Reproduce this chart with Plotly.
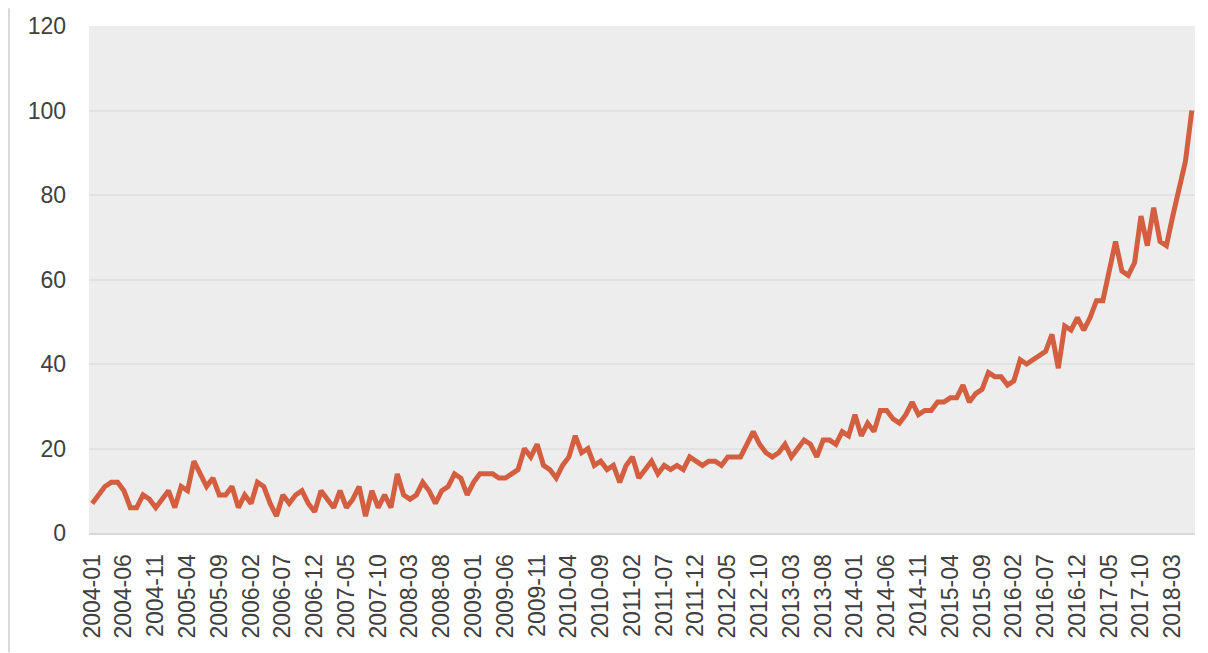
import plotly.graph_objects as go

# Monthly categories 2004-01 .. 2018-06
months = [f"{y}-{m:02d}" for y in range(2004, 2019) for m in range(1, 13)][:174]

values_2004 = [7, 9, 11, 12, 12, 10, 6, 6, 9, 8, 6, 8]
values_2005 = [10, 6, 11, 10, 17, 14, 11, 13, 9, 9, 11, 6]
values_2006 = [9, 7, 12, 11, 7, 4, 9, 7, 9, 10, 7, 5]
values_2007 = [10, 8, 6, 10, 6, 8, 11, 4, 10, 6, 9, 6]
values_2008 = [14, 9, 8, 9, 12, 10, 7, 10, 11, 14, 13, 9]
values_2009 = [12, 14, 14, 14, 13, 13, 14, 15, 20, 18, 21, 16]
values_2010 = [15, 13, 16, 18, 23, 19, 20, 16, 17, 15, 16, 12]
values_2011 = [16, 18, 13, 15, 17, 14, 16, 15, 16, 15, 18, 17]
values_2012 = [16, 17, 17, 16, 18, 18, 18, 21, 24, 21, 19, 18]
values_2013 = [19, 21, 18, 20, 22, 21, 18, 22, 22, 21, 24, 23]
values_2014 = [28, 23, 26, 24, 29, 29, 27, 26, 28, 31, 28, 29]
values_2015 = [29, 31, 31, 32, 32, 35, 31, 33, 34, 38, 37, 37]
values_2016 = [35, 36, 41, 40, 41, 42, 43, 47, 39, 49, 48, 51]
values_2017 = [48, 51, 55, 55, 62, 69, 62, 61, 64, 75, 68, 77]
values_2018 = [69, 68, 75, 81, 88, 100]

values = (values_2004 + values_2005 + values_2006 + values_2007 + values_2008
          + values_2009 + values_2010 + values_2011 + values_2012 + values_2013
          + values_2014 + values_2015 + values_2016 + values_2017 + values_2018)

tick_labels = months[::5]
y_ticks = [0, 20, 40, 60, 80, 100, 120]

fig = go.Figure()
fig.add_trace(go.Scatter(
    x=months, y=values, mode="lines",
    line=dict(color="#D35E40", width=5),
    hoverinfo="x+y", showlegend=False,
))

font_family = "Liberation Sans, Arial, sans-serif"

# page body has an 8px margin: figure sits at (8, 8) and is 1200x645
fig.update_layout(
    width=1200, height=645,
    margin=dict(l=81, r=13, t=18, b=120, autoexpand=False),
    paper_bgcolor="white",
    plot_bgcolor="#ededed",
    font=dict(family=font_family, size=23, color="#404040"),
    xaxis=dict(
        type="category",
        categoryorder="array", categoryarray=months,
        range=[-0.5, len(months) - 0.5],
        tickmode="array", tickvals=tick_labels, ticktext=tick_labels,
        tickangle=-90,
        tickfont=dict(size=23, color="#404040", family=font_family),
        showgrid=False,
        showline=True, linecolor="#d9d9d9", linewidth=2,
        ticks="", ticklabelstandoff=10,
        zeroline=False, automargin=False,
    ),
    yaxis=dict(
        range=[0, 120],
        tickmode="array", tickvals=y_ticks,
        tickfont=dict(size=23, color="#404040", family=font_family),
        showgrid=True, gridcolor="#e2e2e2", gridwidth=2,
        zeroline=False, showline=False,
        ticks="", ticklabelstandoff=22, automargin=False,
    ),
    shapes=[dict(
        type="line", xref="paper", yref="paper",
        x0=-0.0723, x1=-0.0723, y0=-0.235, y1=1.035,
        line=dict(color="#d9d9d9", width=2),
    )],
)

fig.write_html("out.html")
